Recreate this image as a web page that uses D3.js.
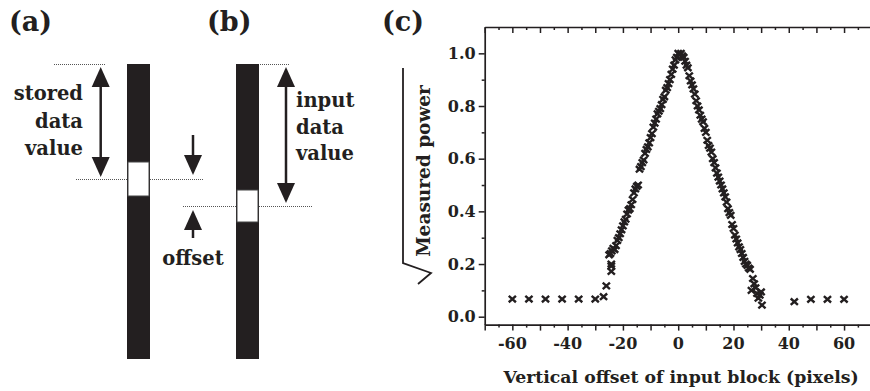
<!DOCTYPE html>
<html><head><meta charset="utf-8">
<script src="https://cdn.jsdelivr.net/npm/d3@7"></script>
<style>
html,body{margin:0;padding:0;background:#fff;}
svg{display:block;}
text{font-family:"DejaVu Serif",serif;font-weight:bold;fill:#231f20;}
</style></head>
<body>
<svg id="chart" width="870" height="391"></svg>
<script>
// ---- Data (panel c) ----
const offsetPx = [-60,-54,-48,-42,-36,-30,-27,-26,-24.2,-24.2,-24.2,
 -25,-24.5,-24,-23.5,-23,-22.5,-22,-21.5,-21,-20.5,-20,-19.5,-19,-18.5,-18,-17.5,-17,-16.5,-16,-15.5,-15,-14.5,
 -14,-13.5,-13,-12.5,-12,-11.5,-11,-10.5,-10,-9.5,-9,-8.5,-8,-7.5,-7,-6.5,-6,-5.5,-5,-4.5,-4,-3.5,-3,-2.5,-2,-1.5,-1,-0.5,
 0,0.5,1,1.5,2,2.5,3,3.5,4,4.5,5,5.5,6,6.5,7,7.5,8,8.5,9,9.5,10,10.5,11,11.5,12,12.5,13,13.5,14,14.5,15,15.5,16,16.5,
 17,17.5,18,18.5,19,19.5,20,20.5,21,21.5,22,22.5,23,23.5,24,24.5,25,25.5,26,26.5,27,27.5,28,28.5,29,29.5,30,30.3,
 42,48,54,60];
const sqrtPower = [0.067,0.067,0.067,0.067,0.067,0.067,0.076,0.117,0.172,0.192,0.2,
 0.235,0.24,0.25,0.26,0.255,0.27,0.29,0.30,0.315,0.33,0.345,0.36,0.37,0.39,0.405,0.41,0.425,0.445,0.47,0.485,0.495,0.50,
 0.56,0.57,0.585,0.595,0.62,0.635,0.645,0.66,0.68,0.695,0.72,0.735,0.75,0.77,0.78,0.79,0.805,0.825,0.835,0.86,0.87,0.885,0.90,0.92,0.94,0.955,0.975,0.985,
 1.0,0.995,1.0,0.99,0.985,0.97,0.955,0.945,0.915,0.895,0.88,0.865,0.845,0.82,0.80,0.785,0.765,0.75,0.74,0.715,0.70,0.67,0.65,0.64,0.625,0.60,0.585,0.565,0.545,0.53,0.515,0.50,0.485,0.47,
 0.455,0.435,0.41,0.395,0.385,0.35,0.335,0.31,0.295,0.28,0.265,0.255,0.24,0.225,0.21,0.20,0.195,0.185,0.18,0.10,0.145,0.125,0.11,0.088,0.07,0.082,0.094,0.044,
 0.057,0.066,0.066,0.066];
const xTickLabels = [-60,-40,-20,0,20,40,60];
const yTickLabels = [0.0,0.2,0.4,0.6,0.8,1.0];
const xTitle = "Vertical offset of input block (pixels)";
const yTitle = "Measured power";
const panelLabels = ["(a)","(b)","(c)"];
const storedLabel = ["stored","data","value"];
const inputLabel = ["input","data","value"];
const offsetLabel = "offset";

const ink = "#231f20";
const svg = d3.select("#chart");

// ---- Panel (c) ----
const x = d3.scaleLinear().domain([-70,70]).range([484.7,871.7]);
const y = d3.scaleLinear().domain([-0.03,1.1]).range([324.6,27]);
const gC = svg.append("g");

function styleAxis(g){
  g.selectAll("path.domain").attr("stroke",ink).attr("stroke-width",1.7);
  g.selectAll(".tick line").attr("stroke",ink).attr("stroke-width",1.5);
}
const xMinor = d3.range(-70,71,5).filter(v=>v%10!==0);
const xMajor = d3.range(-70,71,10);
const yMinor = d3.range(0,11,1).map(v=>v/10).filter((v,i)=>i%2===1);
const yMajor = yTickLabels;

// bottom
const gb = gC.append("g").attr("transform",`translate(0,${y(-0.03)})`);
gb.call(d3.axisBottom(x).tickValues(xMajor).tickSize(6).tickSizeOuter(0).tickFormat(""));
gb.append("g").call(d3.axisBottom(x).tickValues(xMinor).tickSize(3).tickSizeOuter(0).tickFormat("")).select("path.domain").remove();
styleAxis(gb);
gb.append("g").selectAll("text").data(xTickLabels).join("text")
  .attr("x",d=>x(d)).attr("y",24).attr("text-anchor","middle").attr("font-size",16).text(d=>d);
// top
const gt = gC.append("g").attr("transform",`translate(0,${y(1.1)})`);
gt.call(d3.axisBottom(x).tickValues(xMajor).tickSize(6).tickSizeOuter(0).tickFormat(""));
gt.append("g").call(d3.axisBottom(x).tickValues(xMinor).tickSize(3).tickSizeOuter(0).tickFormat("")).select("path.domain").remove();
styleAxis(gt);
// left
const gl = gC.append("g").attr("transform",`translate(${x(-70)},0)`);
gl.call(d3.axisLeft(y).tickValues(yMajor).tickSize(6).tickSizeOuter(0).tickFormat(""));
gl.append("g").call(d3.axisLeft(y).tickValues(yMinor).tickSize(3).tickSizeOuter(0).tickFormat("")).select("path.domain").remove();
styleAxis(gl);
gl.append("g").selectAll("text").data(yTickLabels).join("text")
  .attr("x",-9).attr("y",d=>y(d)).attr("dy","0.36em").attr("text-anchor","end").attr("font-size",16).text(d=>d3.format(".1f")(d));
// right
const gr = gC.append("g").attr("transform",`translate(${x(70)},0)`);
gr.call(d3.axisLeft(y).tickValues(yMajor).tickSize(-5).tickSizeOuter(0).tickFormat(""));
gr.append("g").call(d3.axisLeft(y).tickValues(yMinor).tickSize(-3).tickSizeOuter(0).tickFormat("")).select("path.domain").remove();
styleAxis(gr);

// titles
gC.append("text").attr("x",681).attr("y",383).attr("text-anchor","middle").attr("font-size",17.3).text(xTitle);
gC.append("text").attr("transform",`translate(430,${171}) rotate(-90)`).attr("text-anchor","middle").attr("font-size",18.5).text(yTitle);
// radical sign (rotated)
gC.append("path").attr("d","M403,68 L403,263 L431,273 L418,284")
  .attr("fill","none").attr("stroke",ink).attr("stroke-width",1.8).attr("stroke-linejoin","miter");

// markers
const cross = "M-3.6,-3.2 L3.6,3.2 M-3.6,3.2 L3.6,-3.2";
gC.append("g").selectAll("path").data(d3.range(offsetPx.length)).join("path")
  .attr("transform",i=>`translate(${x(offsetPx[i])},${y(sqrtPower[i])})`)
  .attr("d",cross).attr("stroke",ink).attr("stroke-width",2.4).attr("fill","none");

// ---- Panels (a) and (b) ----
const gD = svg.append("g");
gD.selectAll("text.pl").data(panelLabels).join("text").attr("class","pl")
  .attr("x",(d,i)=>[9,207,382][i]).attr("y",31).attr("font-size",27).text(d=>d);

function dotted(x1,x2,yy){
  gD.append("line").attr("x1",x1).attr("x2",x2).attr("y1",yy).attr("y2",yy)
    .attr("stroke","#555").attr("stroke-width",1).attr("stroke-dasharray","1,1");
}
function arrowHead(xc,tip,dir){ // dir=-1 points up, +1 points down
  const base = tip - dir*20;
  gD.append("path").attr("d",`M${xc},${tip} L${xc-9},${base} L${xc+9},${base} Z`).attr("fill",ink);
}
function shaft(xc,y1,y2){
  gD.append("line").attr("x1",xc).attr("x2",xc).attr("y1",y1).attr("y2",y2).attr("stroke",ink).attr("stroke-width",2.5);
}
// dotted lines
dotted(54,105,64.5); dotted(76,204,179.5);
dotted(258,290,64.5); dotted(183,312,206.5);
// bars
[[127,162,196],[236,190,222]].forEach(([bx,w1,w2])=>{
  gD.append("rect").attr("x",bx).attr("y",64).attr("width",23).attr("height",295).attr("fill",ink);
  gD.append("rect").attr("x",bx+1).attr("y",w1).attr("width",21).attr("height",w2-w1).attr("fill","#fff").attr("stroke","#444").attr("stroke-width",1);
});
// double arrows
shaft(100.7,80,165); arrowHead(100.7,67,-1); arrowHead(100.7,177,1);
shaft(286,80,190); arrowHead(286,67,-1); arrowHead(286,203,1);
// offset arrows
shaft(193,135,160); arrowHead(193,175,1);
shaft(193,225,238); arrowHead(193,210,-1);

gD.selectAll("text.st").data(storedLabel).join("text").attr("class","st")
  .attr("x",83).attr("y",(d,i)=>100+i*27.5).attr("text-anchor","end").attr("font-size",19.5).text(d=>d);
gD.selectAll("text.in").data(inputLabel).join("text").attr("class","in")
  .attr("x",296).attr("y",(d,i)=>107+i*26.5).attr("text-anchor","start").attr("font-size",19.5).text(d=>d);
gD.append("text").attr("x",193).attr("y",265).attr("text-anchor","middle").attr("font-size",19.5).text(offsetLabel);
</script>
</body></html>
